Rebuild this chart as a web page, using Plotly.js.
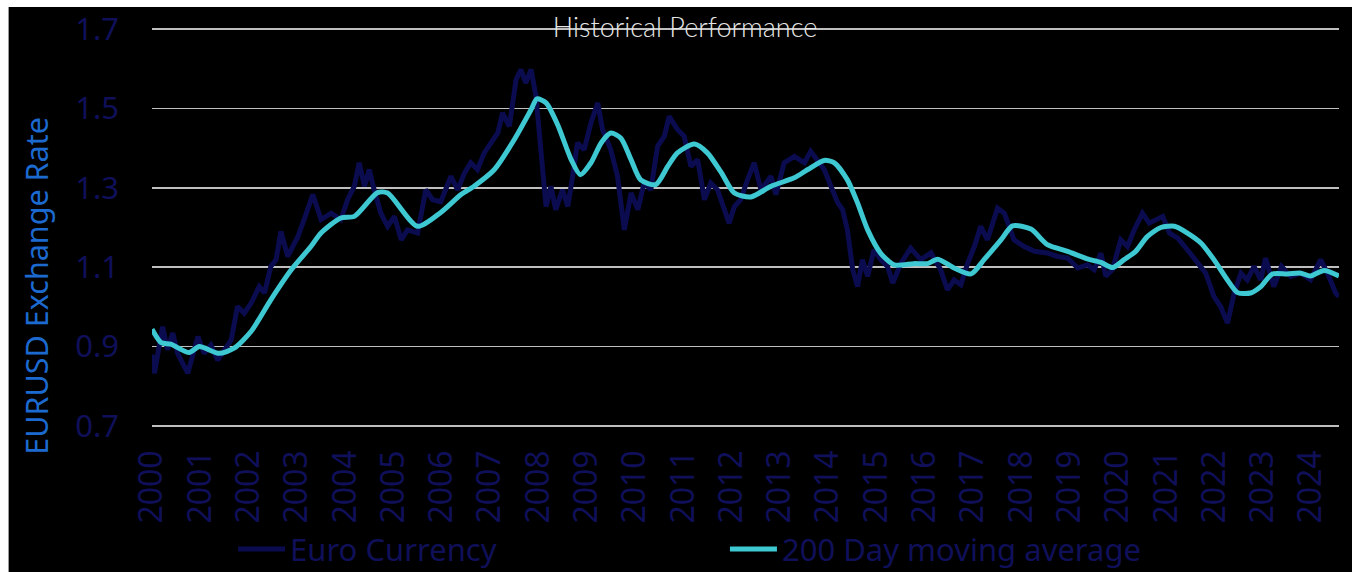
<!DOCTYPE html>
<html>
<head>
<meta charset="utf-8">
<script src="https://cdn.plot.ly/plotly-3.0.1.min.js"></script>
<style>
  html, body { margin: 0; padding: 0; background: #ffffff; }
  #chart { position: absolute; left: 8px; top: 7px; width: 1344px; height: 565px; border-left: 1px solid #999; box-sizing: border-box; }
</style>
</head>
<body>
<div id="chart"></div>
<script>
// ---- data ----
const yearLabels = ["2000","2001","2002","2003","2004","2005","2006","2007","2008","2009","2010","2011","2012","2013","2014","2015","2016","2017","2018","2019","2020","2021","2022","2023","2024"];
const yearTicks = [2000,2001,2002,2003,2004,2005,2006,2007,2008,2009,2010,2011,2012,2013,2014,2015,2016,2017,2018,2019,2020,2021,2022,2023,2024];
const rateTicks = [0.7, 0.9, 1.1, 1.3, 1.5, 1.7];
const rateLabels = ["0.7", "0.9", "1.1", "1.3", "1.5", "1.7"];

const euroT = [2000.00,2000.05,2000.22,2000.32,2000.43,2000.53,2000.74,2000.95,2001.08,2001.22,2001.36,2001.50,2001.64,2001.77,2001.91,
  2002.05,2002.22,2002.33,2002.46,2002.57,2002.67,2002.81,2003.02,2003.15,2003.33,2003.50,2003.71,2003.91,
  2004.05,2004.19,2004.29,2004.40,2004.50,2004.60,2004.74,2004.88,2005.02,2005.16,2005.29,2005.50,2005.67,2005.81,2005.98,
  2006.19,2006.33,2006.47,2006.60,2006.74,2006.88,2007.02,2007.16,2007.26,2007.40,2007.54,2007.64,2007.74,2007.85,2007.95,
  2008.05,2008.16,2008.26,2008.36,2008.50,2008.61,2008.71,2008.81,2008.95,2009.09,2009.23,2009.33,2009.50,2009.64,2009.78,2009.92,
  2010.06,2010.19,2010.33,2010.47,2010.61,2010.71,2010.88,2011.02,2011.16,2011.30,2011.44,2011.57,2011.71,2011.85,2011.95,
  2012.06,2012.19,2012.33,2012.47,2012.61,2012.82,2012.92,2013.09,2013.30,2013.51,2013.64,2013.78,2013.92,
  2014.06,2014.20,2014.30,2014.40,2014.51,2014.61,2014.71,2014.82,2014.95,2015.09,2015.23,2015.34,2015.51,2015.71,2015.92,
  2016.13,2016.33,2016.47,2016.61,2016.75,2016.89,2017.03,2017.16,2017.30,2017.51,2017.65,2017.85,2018.06,2018.27,
  2018.54,2018.75,2018.96,2019.17,2019.37,2019.51,2019.65,2019.75,2019.89,2020.06,2020.20,2020.34,2020.51,2020.65,2020.79,2020.93,
  2021.07,2021.24,2021.44,2021.65,2021.82,2021.99,2022.13,2022.27,2022.41,2022.55,2022.68,2022.82,2022.96,
  2023.06,2023.23,2023.39,2023.58,2023.79,2023.99,2024.20,2024.34,2024.51,2024.58];
const euroV = [0.880,0.833,0.950,0.892,0.934,0.883,0.833,0.925,0.883,0.904,0.866,0.892,0.917,1.001,0.984,
  1.009,1.051,1.035,1.102,1.119,1.190,1.127,1.177,1.220,1.283,1.220,1.236,1.220,
  1.270,1.304,1.363,1.304,1.346,1.295,1.236,1.203,1.228,1.169,1.194,1.186,1.295,1.270,1.265,
  1.329,1.295,1.337,1.363,1.346,1.388,1.413,1.438,1.489,1.455,1.573,1.598,1.564,1.598,1.531,
  1.413,1.253,1.304,1.245,1.295,1.253,1.329,1.413,1.396,1.464,1.514,1.447,1.396,1.329,1.194,1.287,
  1.245,1.312,1.295,1.405,1.430,1.480,1.447,1.430,1.354,1.371,1.270,1.312,1.295,1.245,1.211,
  1.253,1.270,1.320,1.363,1.295,1.329,1.283,1.363,1.379,1.363,1.392,1.371,1.346,
  1.304,1.262,1.245,1.194,1.094,1.051,1.119,1.077,1.144,1.119,1.102,1.060,1.110,1.148,1.119,
  1.136,1.094,1.043,1.068,1.056,1.110,1.152,1.203,1.169,1.249,1.236,1.169,1.152,1.140,
  1.136,1.127,1.123,1.098,1.106,1.094,1.135,1.077,1.094,1.169,1.152,1.194,1.236,1.211,1.220,1.228,
  1.186,1.173,1.144,1.110,1.085,1.026,1.001,0.959,1.035,1.085,1.068,1.102,1.068,
  1.123,1.051,1.102,1.077,1.085,1.068,1.119,1.085,1.035,1.026];

const maT = [2000.00,2000.19,2000.39,2000.77,2000.98,2001.39,2001.70,2002.05,2002.46,2002.88,2003.29,2003.50,2003.91,2004.19,2004.67,2004.88,
  2005.50,2005.98,2006.40,2006.67,2007.09,2007.50,2007.85,2007.97,2008.16,2008.40,2008.68,2008.87,2009.09,2009.30,2009.50,2009.71,2009.92,
  2010.12,2010.43,2010.68,2010.88,2011.23,2011.50,2011.78,2012.06,2012.40,2012.82,2013.30,2013.58,2013.92,2014.13,2014.40,2014.61,2014.82,
  2015.09,2015.37,2015.78,2016.06,2016.27,2016.61,2016.96,2017.23,2017.58,2017.82,2018.20,2018.54,2018.96,2019.37,2019.65,2019.89,
  2020.13,2020.37,2020.61,2020.89,2021.17,2021.44,2021.72,2021.99,2022.27,2022.48,2022.75,2022.96,2023.20,2023.51,2023.79,2023.99,2024.27,2024.58];
const maV = [0.944,0.910,0.906,0.885,0.900,0.883,0.896,0.938,1.018,1.093,1.152,1.186,1.224,1.228,1.288,1.287,
  1.203,1.238,1.283,1.304,1.346,1.421,1.497,1.524,1.514,1.459,1.371,1.333,1.363,1.413,1.438,1.425,1.371,
  1.320,1.308,1.354,1.388,1.410,1.388,1.340,1.287,1.277,1.304,1.325,1.346,1.369,1.363,1.320,1.262,1.194,
  1.135,1.106,1.109,1.109,1.120,1.098,1.083,1.119,1.169,1.204,1.196,1.157,1.140,1.121,1.112,1.099,
  1.119,1.140,1.177,1.200,1.203,1.186,1.161,1.119,1.068,1.036,1.035,1.051,1.083,1.083,1.085,1.078,1.092,1.078];

const navy = '#10105a';
const traces = [
  { x: euroT, y: euroV, type: 'scatter', mode: 'lines', name: 'Euro Currency',
    line: { color: '#0b0b50', width: 5 }, legend: 'legend' },
  { x: maT, y: maV, type: 'scatter', mode: 'lines', name: '200 Day moving average',
    line: { color: '#3ec8d2', width: 5, shape: 'spline', smoothing: 0.7 }, legend: 'legend2' }
];

const layout = {
  width: 1344, height: 565,
  margin: { l: 143, r: 14, t: 20, b: 144 },
  paper_bgcolor: '#000000', plot_bgcolor: '#000000',
  showlegend: true,
  title: { text: 'Historical Performance', x: 0.503, xanchor: 'center', y: 0.963, yanchor: 'middle',
    font: { family: 'Lato', size: 27, color: '#e6e6e6', weight: 300 } },
  xaxis: {
    range: [2000, 2024.58], tickmode: 'array', tickvals: yearTicks, ticktext: yearLabels,
    tickangle: -90, tickfont: { family: 'Noto Sans', size: 32, color: navy },
    showgrid: false, zeroline: false, showline: false, ticks: '', ticklabelstandoff: 15,
    ticklabeloverflow: 'allow'
  },
  yaxis: {
    range: [0.695, 1.705], tickmode: 'array', tickvals: rateTicks, ticktext: rateLabels,
    tickfont: { family: 'Noto Sans', size: 31, color: navy },
    showgrid: true, gridcolor: '#bfbfbf', gridwidth: 1.6, zeroline: false, showline: false,
    ticks: '', ticklabelstandoff: 32, ticklabeloverflow: 'allow'
  },
  legend: { orientation: 'h', xref: 'container', yref: 'container', x: 0.1667, xanchor: 'left', y: 0.04, yanchor: 'middle',
    font: { family: 'Noto Sans', size: 31, color: navy }, bgcolor: 'rgba(0,0,0,0)', itemwidth: 47 },
  legend2: { orientation: 'h', xref: 'container', yref: 'container', x: 0.5327, xanchor: 'left', y: 0.04, yanchor: 'middle',
    font: { family: 'Noto Sans', size: 31, color: navy }, bgcolor: 'rgba(0,0,0,0)', itemwidth: 47 },
  annotations: [{
    text: 'EURUSD Exchange Rate', xref: 'paper', yref: 'paper', x: -0.0977, y: 0.355,
    xanchor: 'center', yanchor: 'middle', textangle: -90, showarrow: false,
    font: { family: 'Noto Sans', size: 30.5, color: '#1c6ad0' }
  }]
};

Plotly.newPlot('chart', traces, layout, { displayModeBar: false, staticPlot: true });
</script>
</body>
</html>
